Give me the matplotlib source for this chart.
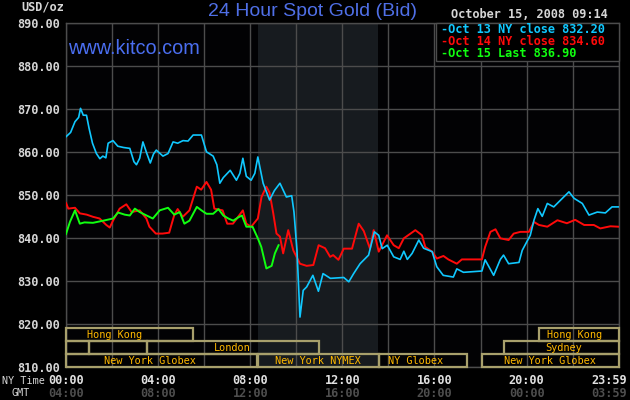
import matplotlib
matplotlib.use("Agg")
import matplotlib.pyplot as plt
from matplotlib.patches import Rectangle
import matplotlib.transforms as mtransforms

# ---------------- data ----------------
cyan_h = [0.0, 0.2, 0.39, 0.55, 0.63, 0.75, 0.89, 1.0, 1.15, 1.32, 1.47, 1.6, 1.73, 1.83, 2.04, 2.25, 2.5,
          2.77, 2.95, 3.06, 3.2, 3.34, 3.51, 3.66, 3.8, 3.92, 4.21, 4.43, 4.65, 4.85, 5.08, 5.3, 5.52, 5.88,
          6.1, 6.39, 6.55, 6.68, 6.83, 7.13, 7.4, 7.55, 7.68, 7.83, 8.04, 8.2, 8.33, 8.56, 8.84, 9.05, 9.29,
          9.57, 9.8, 9.9, 10.03, 10.16, 10.3, 10.45, 10.72, 10.96, 11.16, 11.48, 12.06, 12.28, 12.49, 12.77,
          13.14, 13.39, 13.58, 13.73, 13.95, 14.23, 14.51, 14.67, 14.82, 15.03, 15.32, 15.53, 15.9, 16.1,
          16.38, 16.82, 16.97, 17.26, 18.06, 18.2, 18.57, 18.86, 19.0, 19.22, 19.67, 19.81, 20.16, 20.32,
          20.49, 20.68, 20.9, 21.18, 21.48, 21.84, 22.06, 22.42, 22.71, 23.07, 23.42, 23.71, 23.98]
cyan_v = [863.5, 864.5, 867.0, 868.0, 870.1, 868.5, 868.5, 865.5, 862.0, 859.6, 858.4, 859.0, 858.6, 862.0,
          862.6, 861.3, 861.0, 860.8, 857.7, 857.0, 858.5, 862.3, 859.6, 857.4, 859.5, 860.4, 859.0, 859.6,
          862.3, 862.0, 862.6, 862.5, 863.9, 863.9, 860.0, 859.0, 857.0, 852.7, 854.0, 855.7, 853.4, 855.0,
          858.5, 854.3, 853.4, 855.0, 858.8, 852.7, 848.8, 851.0, 852.7, 849.5, 849.8, 846.0, 837.1, 821.6,
          827.8, 828.6, 831.3, 827.6, 831.7, 830.6, 830.8, 829.8, 831.7, 834.0, 836.0, 841.4, 840.6, 837.5,
          838.3, 835.6, 835.0, 836.9, 835.0, 836.4, 839.5, 837.6, 836.8, 833.3, 831.3, 830.9, 832.8, 832.0,
          832.3, 834.9, 831.3, 835.0, 836.0, 834.0, 834.3, 837.1, 840.6, 844.1, 846.8, 845.0, 848.0, 847.2,
          848.8, 850.7, 849.2, 848.0, 845.3, 846.0, 845.8, 847.2, 847.2]

red_h = [0.0, 0.1, 0.39, 0.6, 0.9, 1.17, 1.46, 1.75, 1.9, 2.04, 2.33, 2.62, 2.85, 3.2, 3.49, 3.62, 3.9, 4.19,
         4.48, 4.7, 4.85, 5.07, 5.36, 5.68, 5.87, 6.1, 6.3, 6.44, 6.8, 7.0, 7.25, 7.35, 7.68, 7.83, 8.04, 8.33,
         8.49, 8.7, 8.84, 9.0, 9.14, 9.29, 9.43, 9.65, 9.87, 10.16, 10.45, 10.74, 10.97, 11.25, 11.47, 11.6,
         11.83, 12.06, 12.42, 12.71, 12.93, 13.2, 13.36, 13.58, 13.94, 14.23, 14.45, 14.67, 15.17, 15.46,
         15.6, 15.9, 16.1, 16.39, 16.6, 16.97, 17.19, 18.06, 18.2, 18.43, 18.65, 18.86, 19.22, 19.44, 19.73,
         20.1, 20.32, 20.54, 20.9, 21.34, 21.75, 22.11, 22.5, 22.92, 23.2, 23.64, 23.98]
red_v = [848.1, 846.8, 847.0, 845.7, 845.4, 844.9, 844.5, 843.0, 842.4, 844.0, 846.8, 847.8, 846.0, 846.4,
         844.5, 842.6, 841.0, 841.0, 841.2, 845.3, 846.7, 844.9, 846.4, 851.9, 851.2, 853.0, 851.2, 846.8,
         846.4, 843.3, 843.3, 844.0, 846.4, 843.3, 842.6, 844.5, 849.5, 851.9, 850.5, 845.7, 841.0, 840.3,
         836.4, 841.8, 837.1, 834.0, 833.5, 833.7, 838.3, 837.6, 835.6, 836.0, 834.9, 837.5, 837.5, 843.3,
         841.6, 837.5, 841.8, 836.8, 840.6, 838.3, 837.6, 839.9, 841.8, 840.6, 837.9, 836.8, 835.2, 835.8,
         835.0, 834.0, 835.0, 835.0, 837.9, 841.4, 842.0, 839.9, 839.5, 841.0, 841.4, 841.4, 843.7, 843.0,
         842.6, 844.1, 843.4, 844.2, 843.0, 843.0, 842.2, 842.7, 842.6]

green_h = [0.0, 0.17, 0.39, 0.6, 0.8, 1.17, 1.62, 2.04, 2.26, 2.55, 2.77, 2.99, 3.2, 3.5, 3.77, 4.07, 4.43,
           4.7, 4.94, 5.14, 5.36, 5.68, 5.88, 6.1, 6.39, 6.62, 6.83, 7.05, 7.26, 7.49, 7.64, 7.83, 8.1, 8.33,
           8.48, 8.7, 8.93, 9.07, 9.23]
green_v = [840.9, 843.7, 846.4, 843.3, 843.6, 843.5, 844.0, 844.5, 845.9, 845.4, 845.2, 846.8, 846.0, 845.2,
           844.5, 846.4, 847.0, 845.4, 846.0, 843.3, 844.0, 847.2, 846.4, 845.6, 845.6, 846.7, 845.2, 844.5,
           844.0, 844.8, 845.2, 842.6, 842.6, 839.9, 837.9, 832.9, 833.5, 836.4, 838.3]

legend_labels = ["Oct 13 NY close 832.20", "Oct 14 NY close 834.60", "Oct 15 Last 836.90"]
ny_ticks = [0, 4, 8, 12, 16, 20, 24]
ny_labels = ["00:00", "04:00", "08:00", "12:00", "16:00", "20:00", "23:59"]
gmt_labels = ["04:00", "08:00", "12:00", "16:00", "20:00", "00:00", "03:59"]
y_ticks = [810, 820, 830, 840, 850, 860, 870, 880, 890]

# session rows: (row, start hour, end hour, label, label x, alignment)
sessions = [
    (0, 0.0, 5.53, "Hong Kong", 2.13, "center"),
    (0, 20.55, 24.0, "Hong Kong", 22.1, "center"),
    (1, 0.0, 1.0, "", 0, "center"),
    (1, 1.0, 3.53, "", 0, "center"),
    (1, 3.53, 11.0, "London", 7.2, "center"),
    (1, 19.04, 24.0, "Sydney", 21.6, "center"),
    (2, 0.0, 8.3, "New York Globex", 3.66, "center"),
    (2, 8.33, 13.58, "New York NYMEX", 10.93, "center"),
    (2, 13.58, 17.42, "NY Globex", 14.0, "left"),
    (2, 18.07, 24.0, "New York Globex", 21.0, "center"),
]
row_bounds = [(816.05, 819.0), (813.0, 816.05), (810.0, 813.0)]
nymex_span = (8.333, 13.55)

# ---------------- figure ----------------
W, H = 630, 400
fig = plt.figure(figsize=(6.3, 4.0), dpi=100, facecolor="#000000")
L, R, T, B = 66, 618.7, 22.7, 367
ax = fig.add_axes([L / W, (H - B) / H, (R - L) / W, (B - T) / H])
ax.set_facecolor("#020204")
ax.set_xlim(0, 24)
ax.set_ylim(810, 890)

mono = "DejaVu Sans Mono"
gridc = "#4c4c4c"

ax.axvspan(*nymex_span, color="#171b1f", zorder=0, lw=0)
for h in range(0, 25, 2):
    ax.axvline(h, color=gridc, lw=1.0, zorder=1)
for v in y_ticks:
    ax.axhline(v, color=gridc, lw=1.0, zorder=1)
for s in ax.spines.values():
    s.set_color(gridc)
    s.set_linewidth(1.0)

ax.set_xticks([])
ax.set_yticks(y_ticks)
ax.set_yticklabels([f"{v:.2f}" for v in y_ticks], family=mono, weight="bold", fontsize=8.6, color="#d6d6d6")
ax.tick_params(axis="y", length=0, pad=4)

cols = ["#10c8ff", "#ff0a0a", "#10ff10"]
ax.plot(cyan_h, cyan_v, color=cols[0], lw=1.2, zorder=4)
ax.plot(red_h, red_v, color=cols[1], lw=1.4, zorder=3)
ax.plot(green_h, green_v, color=cols[2], lw=1.4, zorder=5)

# session boxes
boxc = "#a8a06c"
for row, s, e, lab, lx, al in sessions:
    y0, y1 = row_bounds[row]
    ax.add_patch(Rectangle((s, y0), e - s, y1 - y0, fill=False, ec=boxc, lw=1.6, zorder=6, clip_on=False))
    if lab:
        ax.text(lx, (y0 + y1) / 2, lab, family=mono, fontsize=7.4, color="#ffb800",
                ha=al, va="center", zorder=7)

# legend box
ax.add_patch(Rectangle((0.669, 0.889), 0.331, 0.111, transform=ax.transAxes, fc="#000000",
                       ec=gridc, lw=1.0, zorder=8, clip_on=False))
for i, (lab, c) in enumerate(zip(legend_labels, cols)):
    yy = (29.3 + 12.3 * i)
    fig.text(441.5 / W, 1 - yy / H, "-" + lab, family=mono, weight="bold", fontsize=8.6, color=c,
             ha="left", va="center", zorder=9)

# header texts
fig.text(313 / W, 1 - 12 / H, "24 Hour Spot Gold (Bid)", family="Liberation Sans", fontsize=14,
         color="#4f6fe6", ha="center", va="center")
fig.text(68 / W, 1 - 48.5 / H, "www.kitco.com", family="Liberation Sans", fontsize=14.3,
         color="#4a6ef0", ha="left", va="center", zorder=9)
fig.text(608 / W, 1 - 15 / H, "October 15, 2008 09:14", family=mono, weight="bold", fontsize=8.6,
         color="#d6d6d6", ha="right", va="center")
fig.text(21 / W, 1 - 7.5 / H, "USD/oz", family=mono, weight="bold", fontsize=8.6,
         color="#d6d6d6", ha="left", va="center")

# x labels
trans = mtransforms.blended_transform_factory(ax.transData, fig.transFigure)
for t, nl, gl in zip(ny_ticks, ny_labels, gmt_labels):
    xx = t if t < 24 else 23.57
    ax.text(xx, 1 - 380.7 / H, nl, transform=trans, family=mono, weight="bold", fontsize=8.6,
            color="#e0e0e0", ha="center", va="center")
    ax.text(xx, 1 - 393.5 / H, gl, transform=trans, family=mono, weight="bold", fontsize=8.6,
            color="#4e4e4e", ha="center", va="center")
fig.text(2 / W, 1 - 380.7 / H, "NY Time", family=mono, fontsize=7.3, color="#d6d6d6",
         ha="left", va="center")
fig.text(11 / W, 1 - 392.5 / H, "GMT", family=mono, fontsize=7.3, color="#d6d6d6",
         ha="left", va="center")

fig.savefig("out.png", dpi=100, facecolor="#000000")
